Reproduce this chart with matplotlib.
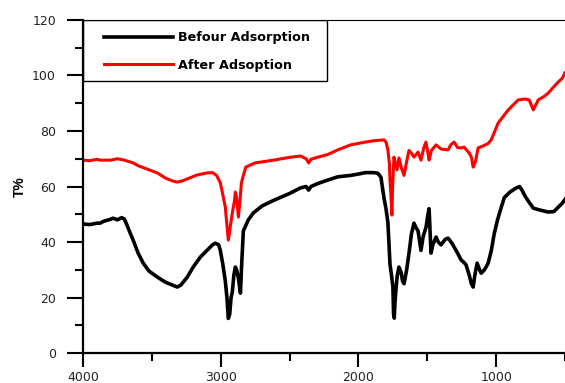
import matplotlib
matplotlib.use("Agg")
import matplotlib.pyplot as plt
from matplotlib.patches import Rectangle
from matplotlib.ticker import MultipleLocator

plt.rcParams['font.family'] = ['DejaVu Sans']

# FTIR spectra: wavenumber (cm-1) vs transmittance (%)
wn_before = [4000, 3950, 3900, 3876, 3850, 3800, 3782, 3750, 3720, 3700, 3680, 3660,
             3636, 3600, 3563, 3520, 3461, 3400, 3350, 3316, 3290, 3243, 3200, 3148,
             3100, 3060, 3039, 3015, 3003, 2985, 2967, 2955, 2945, 2935, 2925, 2916,
             2905, 2894, 2885, 2872, 2864, 2857, 2850, 2836, 2800, 2763, 2700, 2617,
             2500, 2421, 2380, 2362, 2345, 2300, 2224, 2150, 2057, 2000, 1950, 1888,
             1860, 1837, 1815, 1800, 1786, 1771, 1760, 1750, 1745, 1740, 1735, 1728,
             1718, 1706, 1690, 1680, 1669, 1650, 1633, 1615, 1597, 1580, 1567, 1555,
             1546, 1530, 1509, 1495, 1487, 1480, 1473, 1460, 1436, 1420, 1400, 1370,
             1349, 1320, 1305, 1280, 1254, 1230, 1218, 1195, 1180, 1167, 1155, 1138,
             1120, 1109, 1085, 1058, 1035, 1014, 990, 960, 941, 900, 854, 830,
             810, 795, 770, 730, 680, 621, 580, 548, 520, 490]
t_before = [46.5, 46.3, 46.8, 46.8, 47.5, 48.2, 48.6, 48.0, 48.8, 48.3, 46.0, 43.5,
            40.7, 36.0, 32.4, 29.5, 27.4, 25.5, 24.5, 23.8, 24.5, 27.4, 31.0, 34.6,
            37.0, 39.0, 39.6, 39.0, 37.0, 32.0, 26.0, 20.0, 12.5, 14.0, 20.0, 22.0,
            28.0, 31.0, 30.0, 27.0, 24.0, 21.6, 30.0, 44.0, 48.0, 50.5, 53.0, 55.0,
            57.5, 59.5, 60.0, 58.7, 60.0, 61.0, 62.3, 63.5, 64.0, 64.5, 65.0, 65.0,
            64.8, 63.4, 56.0, 52.0, 47.0, 32.0, 28.0, 24.0, 14.0, 12.6, 18.0, 22.7,
            28.0, 31.0, 29.0, 26.0, 25.0, 30.0, 36.0, 43.0, 46.8, 45.0, 44.0, 40.0,
            37.0, 42.0, 45.4, 50.0, 52.0, 44.0, 36.0, 39.0, 41.8, 40.0, 39.0, 41.0,
            41.4, 39.5, 38.2, 36.0, 33.5, 32.5, 31.7, 28.0, 25.0, 23.8, 28.0, 32.4,
            30.0, 28.8, 30.0, 32.4, 37.0, 43.0, 48.0, 53.0, 56.0, 58.0, 59.5, 60.0,
            58.5, 57.0, 55.0, 52.2, 51.5, 50.8, 51.0, 52.6, 54.0, 56.0]

wn_after = [4000, 3950, 3900, 3876, 3800, 3750, 3700, 3636, 3600, 3520, 3461, 3400,
            3350, 3316, 3280, 3230, 3176, 3100, 3060, 3030, 3003, 2985, 2967, 2955,
            2945, 2935, 2916, 2900, 2894, 2885, 2872, 2860, 2850, 2836, 2818, 2750,
            2617, 2500, 2421, 2380, 2362, 2345, 2300, 2224, 2150, 2057, 1950, 1888,
            1815, 1800, 1786, 1775, 1771, 1762, 1757, 1752, 1742, 1735, 1720, 1706,
            1690, 1669, 1650, 1633, 1615, 1597, 1567, 1546, 1525, 1510, 1495, 1487,
            1470, 1436, 1400, 1349, 1330, 1305, 1280, 1254, 1233, 1195, 1180, 1167,
            1150, 1131, 1100, 1058, 1036, 985, 912, 840, 790, 760, 730, 694,
            650, 621, 580, 548, 520, 500]
t_after = [69.5, 69.3, 69.8, 69.5, 69.5, 70.0, 69.5, 68.5, 67.5, 66.0, 64.9, 63.0,
           62.0, 61.6, 62.0, 63.0, 64.1, 64.9, 65.0, 64.0, 61.3, 57.0, 52.6, 46.0,
           40.7, 44.0, 50.5, 55.0, 58.0, 56.0, 49.0, 55.0, 61.3, 64.0, 67.0, 68.5,
           69.5, 70.5, 71.0, 70.0, 68.5, 69.8, 70.5, 71.5, 73.2, 75.0, 76.0, 76.5,
           76.8, 76.0, 73.2, 68.0, 62.3, 55.0, 49.7, 60.0, 70.6, 69.0, 66.0, 70.3,
           67.0, 64.0, 69.0, 73.0, 72.0, 70.6, 72.4, 69.5, 74.0, 76.0, 72.0, 69.5,
           73.0, 75.0, 73.5, 73.2, 75.0, 76.0, 74.0, 73.9, 74.2, 72.0, 70.6, 67.0,
           69.0, 73.9, 74.5, 75.5, 76.8, 82.9, 87.6, 91.2, 91.5, 91.2, 87.6, 91.2,
           92.5, 93.7, 96.0, 97.7, 99.0, 101.0]

labels = ["Befour Adsorption", "After Adsoption"]

fig = plt.figure(figsize=(5.65, 3.83), dpi=100)
ax = fig.add_axes([0.147, 0.078, 0.853, 0.870])

ax.plot(wn_before, t_before, color='black', lw=2.6, label=labels[0])
ax.plot(wn_after, t_after, color='red', lw=2.2, label=labels[1])

ax.set_xlim(4000, 500)
ax.set_ylim(0, 120)
ax.xaxis.set_major_locator(MultipleLocator(1000))
ax.xaxis.set_minor_locator(MultipleLocator(500))
ax.yaxis.set_major_locator(MultipleLocator(20))
ax.yaxis.set_minor_locator(MultipleLocator(10))

ax.spines['right'].set_visible(False)
ax.spines['top'].set_linewidth(0.8)
ax.spines['left'].set_linewidth(1.6)
ax.spines['bottom'].set_linewidth(1.6)

ax.tick_params(axis='y', which='major', direction='out', length=11.5, width=1.5,
               pad=8, labelsize=9, labelcolor='#222222')
ax.tick_params(axis='y', which='minor', direction='out', length=5.8, width=1.5)
ax.tick_params(axis='x', which='major', direction='out', length=10, width=1.5,
               pad=3, labelsize=9, labelcolor='#222222')
ax.tick_params(axis='x', which='minor', direction='out', length=5.8, width=1.5)

ax.set_ylabel("T%", fontsize=10, fontweight='bold', labelpad=4,
              family='Liberation Sans')

# legend box drawn separately so the padding can be uneven
ax.add_patch(Rectangle((0, 0.817), 0.506, 0.183, transform=ax.transAxes,
                       fill=False, edgecolor='black', lw=1.0, zorder=4))
leg = ax.legend(loc='upper left', bbox_to_anchor=(0.0436, 0.966), borderaxespad=0,
                borderpad=0, frameon=False, handlelength=5.4, handletextpad=0.4,
                labelspacing=1.15, prop={'weight': 'bold', 'size': 9.2})

fig.savefig("out.png", dpi=100)
